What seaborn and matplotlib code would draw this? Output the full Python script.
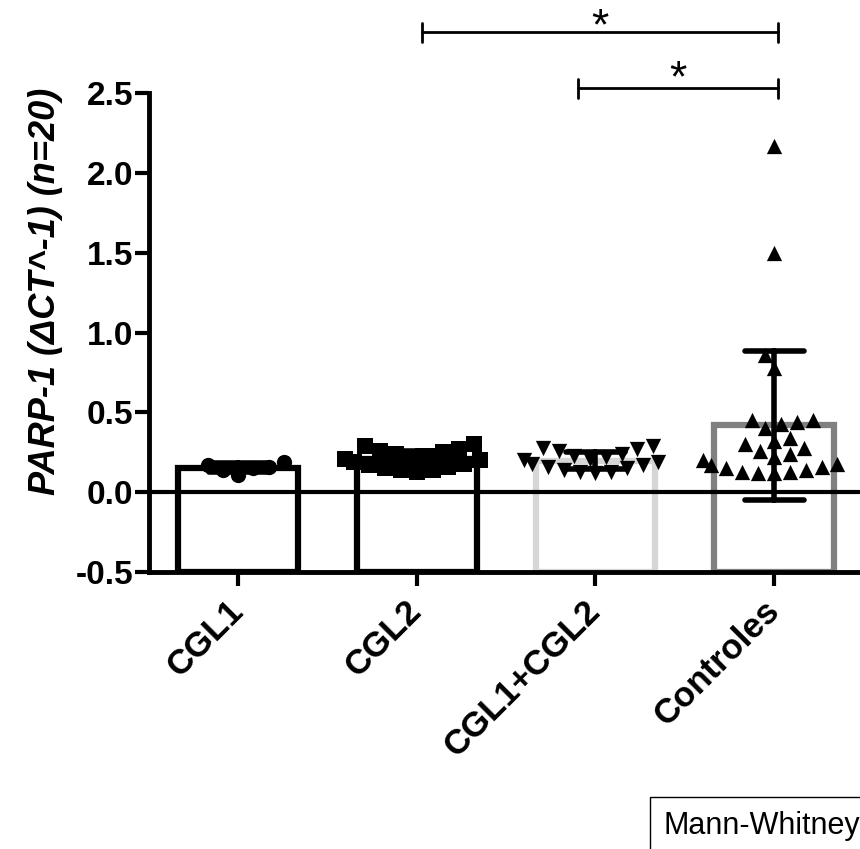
import numpy as np
import pandas as pd
import matplotlib
matplotlib.use("Agg")
import matplotlib.pyplot as plt
import seaborn as sns

# warning library
import warnings
warnings.filterwarnings('ignore')

# data
grupos = ["CGL1", "CGL2", "CGL1+CGL2", "Controles"]
cgl1 = [0.17, 0.11, 0.15, 0.16, 0.14, 0.19]
cgl2 = [0.29, 0.30, 0.27, 0.25, 0.24, 0.22, 0.21, 0.20, 0.19,
        0.18, 0.17, 0.16, 0.15, 0.14, 0.14, 0.13, 0.26, 0.23]
cgl1_cgl2 = [0.28, 0.27, 0.29, 0.26, 0.24, 0.22, 0.21, 0.20, 0.19,
             0.18, 0.17, 0.16, 0.15, 0.14, 0.13, 0.13, 0.12, 0.23]
controles = [2.17, 1.50, 0.86, 0.78, 0.45, 0.45, 0.44, 0.43, 0.40,
             0.34, 0.32, 0.30, 0.28, 0.26, 0.24, 0.22, 0.20, 0.18,
             0.17, 0.16, 0.15, 0.14, 0.13, 0.13, 0.12, 0.12]
marcadores = ["o", "s", "v", "^"]
bordas = ["black", "black", "#d6d6d6", "#808080"]

valores = [cgl1, cgl2, cgl1_cgl2, controles]
df = pd.DataFrame({
    "grupo": [g for g, v in zip(grupos, valores) for _ in v],
    "valor": [x for v in valores for x in v],
})

sns.set_style("ticks")
plt.rcParams['font.family'] = ['Liberation Sans', 'DejaVu Sans']
plt.rcParams['axes.unicode_minus'] = False
for k in ['text.color', 'axes.labelcolor', 'xtick.color', 'ytick.color', 'axes.edgecolor']:
    plt.rcParams[k] = 'black'

fig = plt.figure(figsize=(8.6, 8.49), dpi=100)
ax = fig.add_axes([0.173, 0.326, 0.829, 0.5645])

# bars (mean +- SD)
sns.barplot(data=df, x="grupo", y="valor", order=grupos, estimator="mean",
            errorbar="sd", color="white", saturation=1, width=0.67,
            linewidth=4.5, capsize=0.33,
            err_kws={"color": "black", "linewidth": 4}, ax=ax)
# GraphPad style: bars start at the bottom of the axis
for patch, cor in zip(ax.patches, bordas):
    patch.set_edgecolor(cor)
    patch.set_facecolor("white")
    altura = patch.get_height()
    patch.set_y(-0.5)
    patch.set_height(altura + 0.5)

# points
for g, m in zip(grupos, marcadores):
    sns.swarmplot(data=df[df.grupo == g], x="grupo", y="valor", order=grupos,
                  marker=m, color="black", size=11, linewidth=0, ax=ax, zorder=3)

ax.axhline(0, color="black", lw=3, zorder=2.5)

ax.set_xlim(-0.5, 3.49)
ax.set_ylim(-0.5, 2.5)
yt = [-0.5, 0.0, 0.5, 1.0, 1.5, 2.0, 2.5]
ax.set_yticks(yt)
ax.set_yticklabels(["%.1f" % t for t in yt], fontweight="bold", fontsize=24)
ax.set_xticks(range(len(grupos)))
ax.set_xticklabels(grupos, fontweight="bold", fontsize=25, rotation=45,
                   ha="right", va="center", rotation_mode="anchor")
ax.set_xlabel("")
ax.set_ylabel("PARP-1 (ΔCT^-1) (n=20)", fontsize=26, fontweight="bold",
              style="italic")
ax.yaxis.set_label_coords(-0.12, 0.585)

sns.despine(ax=ax)
for s in ["left", "bottom"]:
    ax.spines[s].set_linewidth(3.5)
ax.tick_params(axis="both", width=3, length=10, color="black")
ax.tick_params(axis="y", pad=1)
ax.tick_params(axis="x", pad=14)

# significance brackets
def bracket(x0, x1, y, ys):
    ax.plot([x0, x1], [y, y], color="black", lw=2, clip_on=False)
    ax.plot([x0, x0], [y - 0.06, y + 0.06], color="black", lw=2, clip_on=False)
    ax.plot([x1, x1], [y - 0.06, y + 0.06], color="black", lw=2, clip_on=False)
    ax.text((x0 + x1) / 2, ys, "*", ha="center", va="center", fontsize=32)

bracket(1.03, 3.02, 2.88, 2.91)
bracket(1.90, 3.02, 2.53, 2.58)

fig.text(0.772, 0.018, "Mann-Whitney", fontsize=22, va="baseline",
         bbox=dict(facecolor="white", edgecolor="black", lw=1,
                   boxstyle="square,pad=0.45"))

plt.savefig("out.png", dpi=100)
